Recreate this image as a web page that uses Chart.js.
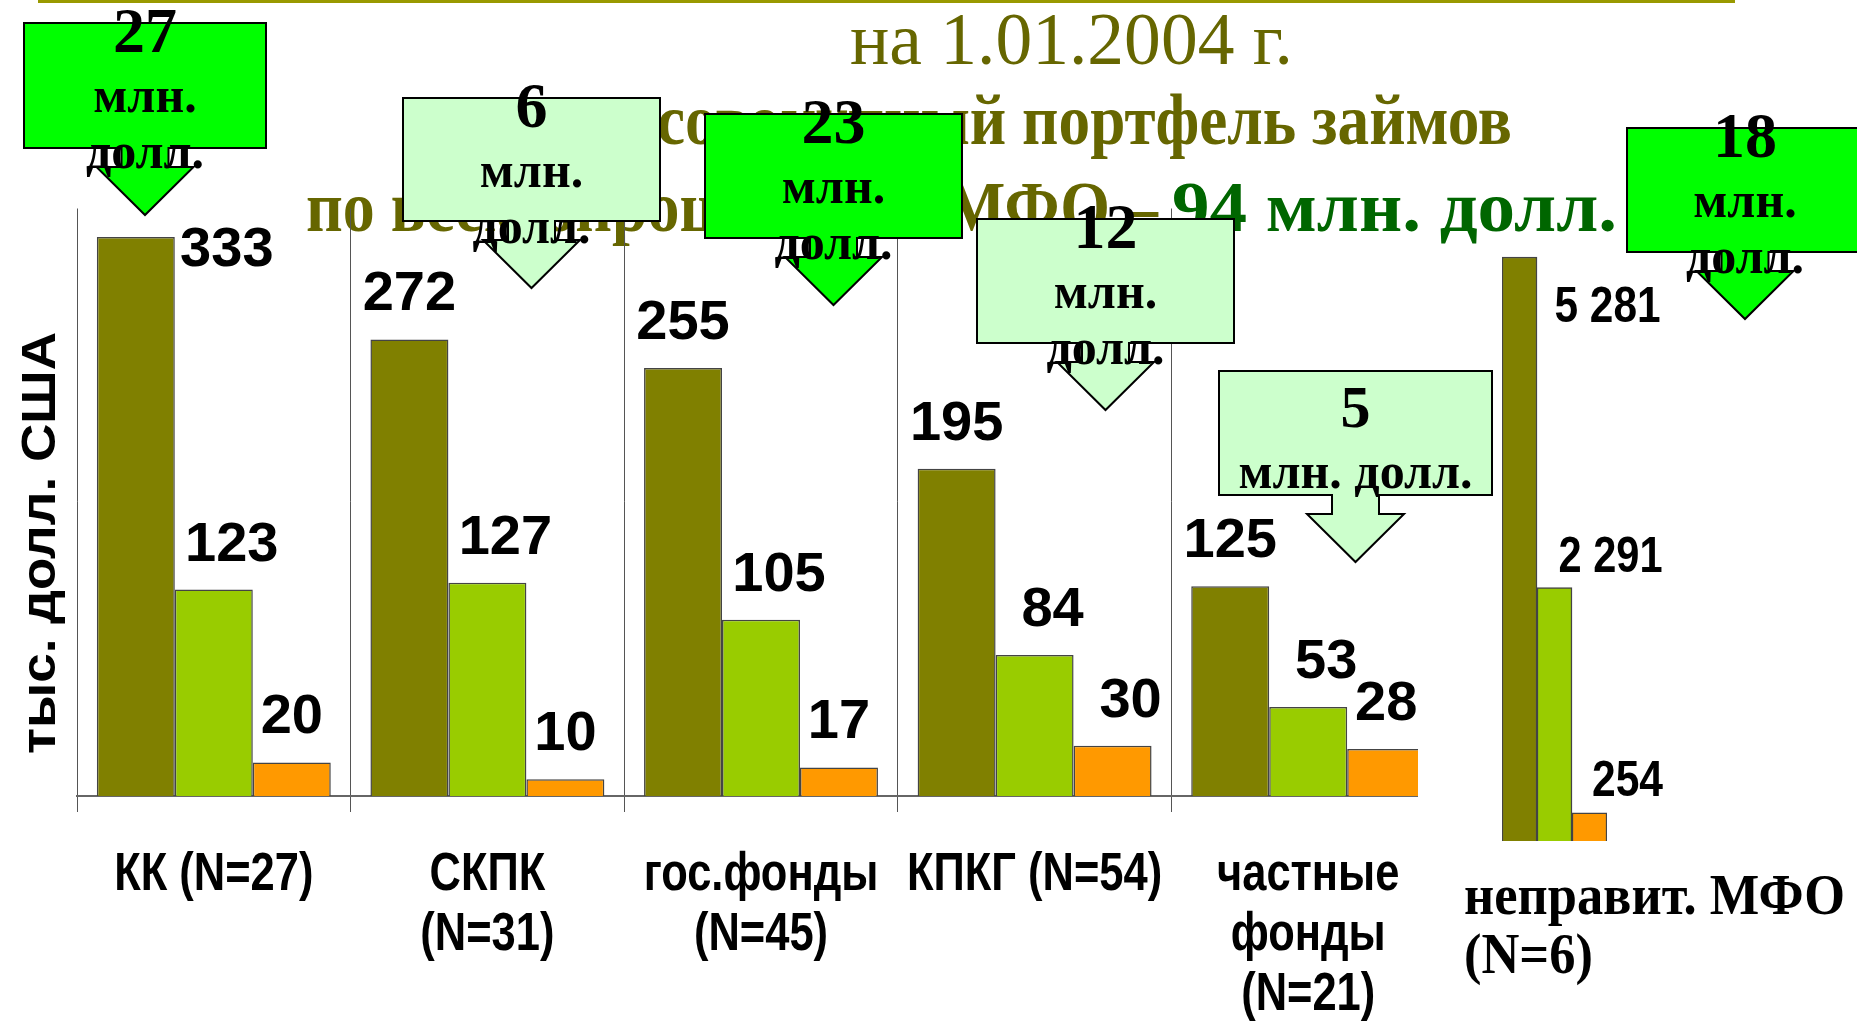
<!DOCTYPE html>
<html><head><meta charset="utf-8">
<script src="https://cdn.jsdelivr.net/npm/chart.js@4.4.1/dist/chart.umd.min.js"></script>
<style>
html,body{margin:0;padding:0;background:#fff;}
#wrap{position:relative;width:1857px;height:1021px;overflow:hidden;background:#fff;}
canvas{position:absolute;left:0;top:0;}
</style></head><body>
<div id="wrap"><canvas id="c1" width="1857" height="1021"></canvas><canvas id="c2" width="1857" height="1021"></canvas></div>
<script>
// ---------- DATA ----------
const categories = [['КК (N=27)'], ['СКПК', '(N=31)'], ['гос.фонды', '(N=45)'], ['КПКГ (N=54)'], ['частные', 'фонды', '(N=21)']];
const seriesOlive  = [333, 272, 255, 195, 125];
const seriesGreen  = [123, 127, 105, 84, 53];
const seriesOrange = [20, 10, 17, 30, 28];
const ngoCategory = ['неправит. МФО', '(N=6)'];
const ngoValues = [5281, 2291, 254];
const ngoValueLabels = ['5 281', '2 291', '254'];
const boxTotals = ['27', '6', '23', '12', '5', '18'];
const boxUnit = ['млн.', 'долл.'];
const yTitle = 'тыс. долл. США';
const titleLine1 = 'на 1.01.2004 г.';
const titleLine2 = 'совокупный портфель займов';
const titleLine3a = 'по всем опрошенным МФО –';
const titleLine3b = '94 млн. долл.';
const mainMax = 350, ngoMax = 5500;

// ---------- STYLE ----------
const OLIVE = '#808000', LIME = '#99CC00', ORANGE = '#FF9900';
const SERIF = "'Liberation Serif','Times New Roman',serif";
const SANS = "'Liberation Sans',Arial,sans-serif";

function txt(ctx, s, x, y, font, color, align, opt) {
  ctx.save();
  ctx.font = font; ctx.fillStyle = color; ctx.textBaseline = 'alphabetic'; ctx.textAlign = 'left';
  const w = ctx.measureText(s).width;
  let sx = 1;
  if (opt && opt.w) sx = opt.w / w; else if (opt && opt.sx) sx = opt.sx;
  const left = align === 'center' ? x - w * sx / 2 : align === 'right' ? x - w * sx : x;
  ctx.translate(left, y); ctx.scale(sx, 1);
  ctx.fillText(s, 0, 0);
  ctx.restore();
  return sx;
}

// ---------- CHART 1 ----------
const mainDecor = {
  id: 'mainDecor',
  beforeDraw(chart) {
    const ctx = chart.ctx;
    ctx.save();
    ctx.fillStyle = '#fff'; ctx.fillRect(0, 0, chart.width, chart.height);
    ctx.fillStyle = '#999900'; ctx.fillRect(38, 0, 1697, 3);
    ctx.restore();
    txt(ctx, titleLine1, 850, 64, '73px ' + SERIF, '#666600', 'left', {w: 443});
    txt(ctx, titleLine2, 657, 144, 'bold 72px ' + SERIF, '#666600', 'left', {w: 855});
    txt(ctx, titleLine3a, 306, 231, 'bold 72px ' + SERIF, '#666600', 'left', {w: 852});
    txt(ctx, titleLine3b, 1172, 231, 'bold 72px ' + SERIF, '#006600', 'left', {w: 445});
  },
  afterDraw(chart) {
    const ctx = chart.ctx;
    const xs = chart.scales.x;
    categories.forEach((lines, i) => {
      const cx = xs.getPixelForValue(i);
      lines.forEach((ln, k) => txt(ctx, ln, cx, 890 + 60 * k, 'bold 53px ' + SANS, '#000', 'center', {sx: 0.82}));
    });
    ctx.save();
    ctx.translate(38, 543); ctx.rotate(-Math.PI / 2);
    txt(ctx, yTitle, 0, 17, 'bold 48px ' + SANS, '#000', 'center', {w: 422});
    ctx.restore();
    const nudge = {'0-0': {dx: 91, dy: 29}, '1-*': {dx: 18}, '2-3': {dx: 18}};
    chart.data.datasets.forEach((ds, di) => {
      chart.getDatasetMeta(di).data.forEach((bar, i) => {
        const n = nudge[di + '-' + i] || nudge[di + '-*'] || {};
        const x = bar.x + (n.dx || 0);
        const y = bar.y + (n.dy !== undefined ? n.dy : -29);
        txt(ctx, String(ds.data[i]), x, y, 'bold 56px ' + SANS, '#000', 'center');
      });
    });
  }
};

const gridCol = c => (c.type === 'tick' ? '#555' : 'rgba(0,0,0,0)');
new Chart(document.getElementById('c1'), {
  type: 'bar',
  data: {
    labels: categories.map(c => c.join(' ')),
    datasets: [
      {data: seriesOlive, backgroundColor: OLIVE},
      {data: seriesGreen, backgroundColor: LIME},
      {data: seriesOrange, backgroundColor: ORANGE}
    ]
  },
  options: {
    responsive: false, animation: false, devicePixelRatio: 1,
    layout: {padding: {left: 77, right: 412, top: 208.5, bottom: 209}},
    datasets: {bar: {categoryPercentage: 0.855, barPercentage: 1, borderColor: '#444', borderWidth: 1.5}},
    plugins: {legend: {display: false}, title: {display: false}, tooltip: {enabled: false}},
    scales: {
      x: {
        display: true,
        ticks: {display: false},
        grid: {offset: true, color: gridCol, tickColor: gridCol, lineWidth: 1, drawTicks: true, tickLength: 16},
        border: {display: true, color: '#666', width: 2},
        afterFit: s => { s.height = 16; }
      },
      y: {display: false, min: 0, max: mainMax}
    }
  },
  plugins: [mainDecor]
});

// ---------- CHART 2 (неправит. МФО) + callouts ----------
const boxes = [
  {l: 24, t: 23, r: 266, b: 148, fill: '#00FF00'},
  {l: 403, t: 98, r: 660, b: 221, fill: '#CCFFCC'},
  {l: 705, t: 114, r: 962, b: 238, fill: '#00FF00'},
  {l: 977, t: 219, r: 1234, b: 343, fill: '#CCFFCC'},
  {l: 1219, t: 371, r: 1492, b: 495, fill: '#CCFFCC', one: true},
  {l: 1627, t: 128, r: 1863, b: 252, fill: '#00FF00'}
];
const ngoDecor = {
  id: 'ngoDecor',
  beforeDraw(chart) {
    const ctx = chart.ctx;
    ctx.save(); ctx.fillStyle = '#fff'; ctx.fillRect(1418, 730, 80, 100); ctx.restore();
  },
  afterDraw(chart) {
    const ctx = chart.ctx;
    const nud = [{dx: 88, dy: 65}, {dx: 56, dy: -16}, {dx: 38, dy: -17}];
    const widths = [106, 104, 71];
    chart.data.datasets.forEach((ds, di) => {
      const bar = chart.getDatasetMeta(di).data[0];
      txt(ctx, ngoValueLabels[di], bar.x + nud[di].dx, bar.y + nud[di].dy, 'bold 50px ' + SANS, '#000', 'center', {w: widths[di]});
    });
    const sx = txt(ctx, ngoCategory[0], 1464, 914, 'bold 57px ' + SERIF, '#000', 'left', {w: 381});
    txt(ctx, ngoCategory[1], 1464, 973, 'bold 57px ' + SERIF, '#000', 'left', {sx: sx});
    boxes.forEach((bx, i) => {
      const cx = (bx.l + bx.r) / 2, b = bx.b;
      ctx.save();
      ctx.beginPath();
      ctx.moveTo(bx.l, bx.t); ctx.lineTo(bx.r, bx.t); ctx.lineTo(bx.r, b);
      ctx.lineTo(cx + 23.5, b); ctx.lineTo(cx + 23.5, b + 19); ctx.lineTo(cx + 48.5, b + 19);
      ctx.lineTo(cx, b + 67); ctx.lineTo(cx - 48.5, b + 19); ctx.lineTo(cx - 23.5, b + 19);
      ctx.lineTo(cx - 23.5, b); ctx.lineTo(bx.l, b); ctx.closePath();
      ctx.fillStyle = bx.fill; ctx.fill();
      ctx.lineWidth = 2; ctx.strokeStyle = '#000'; ctx.lineJoin = 'miter'; ctx.stroke();
      ctx.restore();
      if (bx.one) {
        txt(ctx, boxTotals[i], cx, bx.t + 56, 'bold 60px ' + SERIF, '#000', 'center');
        txt(ctx, boxUnit.join(' '), cx, bx.t + 117, 'bold 50px ' + SERIF, '#000', 'center');
      } else {
        txt(ctx, boxTotals[i], cx, bx.t + 29, 'bold 64px ' + SERIF, '#000', 'center');
        txt(ctx, boxUnit[0], cx, bx.t + 89, 'bold 50px ' + SERIF, '#000', 'center');
        txt(ctx, boxUnit[1], cx, bx.t + 145, 'bold 50px ' + SERIF, '#000', 'center');
      }
    });
  }
};

new Chart(document.getElementById('c2'), {
  type: 'bar',
  data: {
    labels: [ngoCategory.join(' ')],
    datasets: [{data: [ngoValues[0]], backgroundColor: OLIVE}, {data: [ngoValues[1]], backgroundColor: LIME}, {data: [ngoValues[2]], backgroundColor: ORANGE}]
  },
  options: {
    responsive: false, animation: false, devicePixelRatio: 1,
    layout: {padding: {left: 1502, right: 250, top: 232.8, bottom: 180}},
    datasets: {bar: {categoryPercentage: 1, barPercentage: 1, borderColor: '#444', borderWidth: 1.5}},
    plugins: {legend: {display: false}, title: {display: false}, tooltip: {enabled: false}},
    scales: {x: {display: false}, y: {display: false, min: 0, max: ngoMax}}
  },
  plugins: [ngoDecor]
});
</script>
</body></html>
